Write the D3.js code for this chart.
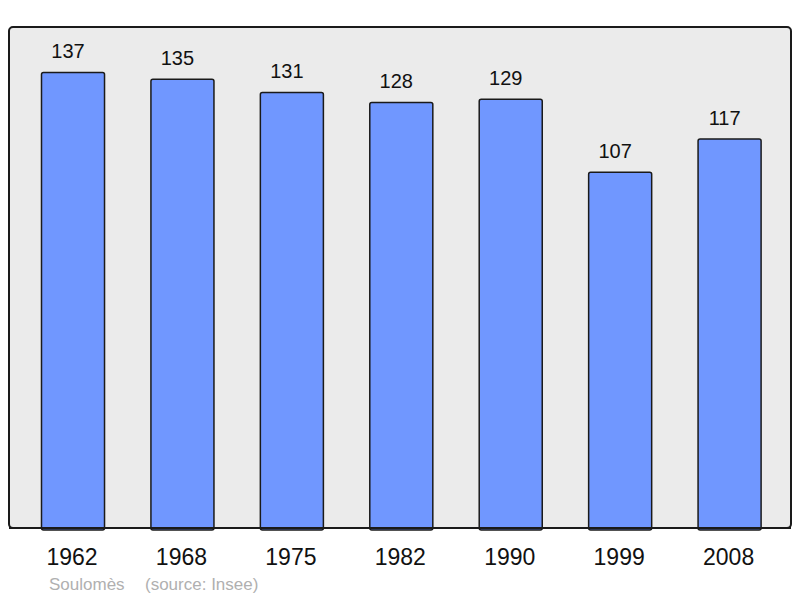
<!DOCTYPE html>
<html><head><meta charset="utf-8">
<script src="https://cdn.jsdelivr.net/npm/d3@7/dist/d3.min.js"></script>
<style>body{margin:0;background:#fff;}svg{display:block;}</style>
</head><body>
<script>
const years = ["1962","1968","1975","1982","1990","1999","2008"];
const population = [137,135,131,128,129,107,117];
const placeName = "Soulomès";
const sourceText = "(source: Insee)";

const W = 800, H = 598;
const panel = {x0: 9, y0: 27, x1: 791, y1: 528};
const svg = d3.select("body").append("svg").attr("width", W).attr("height", H);

svg.append("rect").attr("x", panel.x0).attr("y", panel.y0)
  .attr("width", panel.x1 - panel.x0).attr("height", panel.y1 - panel.y0)
  .attr("rx", 4).attr("fill", "#ebebeb").attr("stroke", "#1a1a1a").attr("stroke-width", 2);

const x = d3.scaleBand().domain(years).range([18.3, 784.3]).paddingInner(0.424).paddingOuter(0.212);
const y = d3.scaleLinear().domain([0, d3.max(population) * 1.1]).range([panel.y1, panel.y0]);

const data = years.map((yr, i) => ({yr, v: population[i]}));

svg.selectAll("rect.bar").data(data).enter().append("rect").attr("class", "bar")
  .attr("x", d => x(d.yr)).attr("y", d => y(d.v))
  .attr("width", x.bandwidth()).attr("height", d => y(0) - y(d.v) + 2)
  .attr("rx", 2)
  .attr("fill", "#7097ff").attr("stroke", "#1a1a1a").attr("stroke-width", 1.5);

svg.append("line").attr("x1", panel.x0).attr("x2", panel.x1).attr("y1", panel.y1).attr("y2", panel.y1)
  .attr("stroke", "#1a1a1a").attr("stroke-width", 2);

svg.selectAll("text.val").data(data).enter().append("text").attr("class", "val")
  .attr("x", d => x(d.yr) + x.bandwidth() / 2 - 5).attr("y", d => y(d.v) - 14.5)
  .attr("text-anchor", "middle").attr("font-family", "Liberation Sans, Arial, sans-serif")
  .attr("font-size", 20).attr("fill", "#111").text(d => d.v);

const xAxis = d3.axisBottom(x).tickSize(0).tickPadding(0);
const gx = svg.append("g").attr("transform", `translate(0,${panel.y1})`).call(xAxis);
gx.select(".domain").remove();
gx.selectAll("text").attr("font-family", "Liberation Sans, Arial, sans-serif")
  .attr("font-size", 23).attr("fill", "#111").attr("dy", null).attr("y", 37).attr("x", -1);

svg.append("text").attr("x", 49).attr("y", 590).attr("font-family", "Liberation Sans, Arial, sans-serif")
  .attr("font-size", 17).attr("fill", "#b0b0b0").text(placeName);
svg.append("text").attr("x", 145).attr("y", 590).attr("font-family", "Liberation Sans, Arial, sans-serif")
  .attr("font-size", 17).attr("fill", "#b0b0b0").text(sourceText);
</script>
</body></html>
